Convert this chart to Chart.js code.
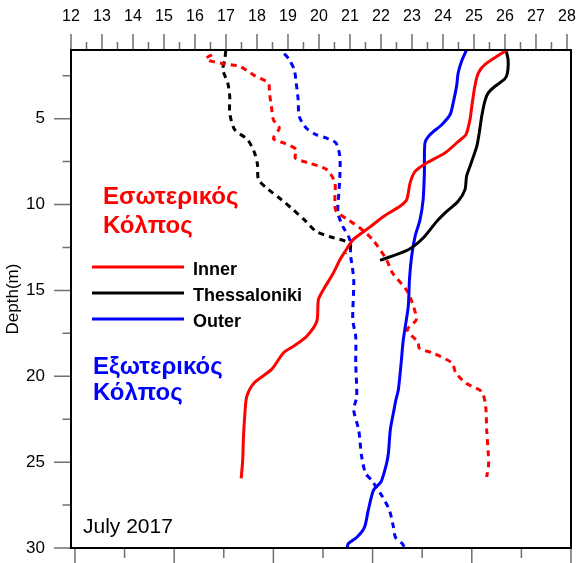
<!DOCTYPE html>
<html>
<head>
<meta charset="utf-8">
<script src="https://cdn.jsdelivr.net/npm/chart.js@4/dist/chart.umd.min.js"></script>
<style>
  html, body { margin: 0; padding: 0; background: #fff; overflow: hidden; width: 578px; height: 563px; }
  #wrap { width: 578px; height: 563px; overflow: hidden; }
  canvas { display: block; }
</style>
</head>
<body>
<div id="wrap"><canvas id="c" width="578" height="563" style="width:578px;height:563px"></canvas></div>
<script>
// Station profiles, July 2017: temperature (top axis, °C) and salinity (bottom axis) vs depth (m)
const seriesNames = ['Inner', 'Thessaloniki', 'Outer'];
const seriesColors = ['#ff0000', '#000000', '#0000ff'];

const tempTicks = [12, 13, 14, 15, 16, 17, 18, 19, 20, 21, 22, 23, 24, 25, 26, 27, 28];
const depthTicks = [5, 10, 15, 20, 25, 30];

// Temperature profiles
const innerTempDepth = [1.0, 1.85, 2.35, 3.1, 4.28, 5.06, 5.93, 6.32, 7.0, 7.58, 8.07, 8.74, 9.71, 10.1, 10.69, 11.3, 12.04, 12.6, 13.2, 14.0, 14.96, 15.54, 16.8, 17.68, 18.26, 18.64, 19.6, 20.4, 21.18, 22.16, 23.7, 24.86, 25.95];
const innerTemp = [26.06, 25.35, 25.14, 25.03, 24.93, 24.87, 24.74, 24.5, 24.06, 23.47, 23.1, 22.94, 22.83, 22.61, 22.08, 21.65, 21.1, 20.89, 20.68, 20.46, 20.14, 19.98, 19.93, 19.6, 19.17, 18.85, 18.47, 17.9, 17.67, 17.61, 17.56, 17.54, 17.49];

const thessTempDepth = [1.0, 1.56, 2.34, 2.69, 3.11, 3.5, 3.99, 4.86, 5.83, 6.61, 7.78, 8.36, 9.13, 9.81, 10.4, 10.98, 11.95, 12.63, 13.25];
const thessTemp = [26.03, 26.1, 26.08, 25.99, 25.68, 25.46, 25.35, 25.25, 25.17, 25.09, 24.87, 24.76, 24.71, 24.49, 24.12, 23.8, 23.36, 22.88, 21.97];

const outerTempDepth = [1.0, 1.66, 2.34, 3.1, 4.08, 4.76, 5.35, 5.93, 6.41, 8.16, 9.71, 10.88, 11.85, 13.0, 14.33, 15.93, 17.87, 19.23, 20.78, 21.38, 22.14, 23.13, 24.47, 25.08, 26.15, 26.63, 27.8, 28.78, 29.36, 29.75, 30.0];
const outerTemp = [24.76, 24.6, 24.49, 24.44, 24.33, 24.23, 23.96, 23.58, 23.42, 23.4, 23.36, 23.26, 23.1, 22.99, 22.92, 22.88, 22.72, 22.65, 22.56, 22.48, 22.4, 22.3, 22.24, 22.18, 22.0, 21.76, 21.59, 21.47, 21.23, 20.94, 20.91];

// Salinity profiles (dashed)
const innerSalDepth = [1.27, 1.50, 1.66, 1.81, 1.95, 2.49, 2.92, 3.50, 4.28, 5.06, 5.54, 6.16, 6.45, 6.80, 7.29, 7.58, 7.97, 8.72, 9.71, 10.36, 10.88, 11.35, 12.04, 13.21, 13.98, 14.96, 15.73, 16.70, 17.29, 18.04, 18.36, 18.68, 19.23, 19.82, 20.40, 20.90, 21.76, 23.13, 25.08, 25.86];
const innerSal = [35.38, 35.32, 35.38, 35.51, 35.66, 35.81, 35.95, 35.96, 35.98, 36.00, 36.06, 36.00, 36.12, 36.23, 36.22, 36.36, 36.54, 36.62, 36.62, 36.63, 36.75, 36.87, 37.00, 37.14, 37.20, 37.34, 37.40, 37.44, 37.35, 37.46, 37.47, 37.62, 37.80, 37.84, 37.94, 38.10, 38.14, 38.15, 38.17, 38.15];

const thessSalDepth = [1.04, 1.56, 2.14, 2.92, 3.70, 4.67, 5.64, 6.22, 6.99, 7.68, 8.55, 9.13, 9.71, 10.30, 10.88, 11.56, 11.89, 12.14, 12.39, 12.86];
const thessSal = [35.52, 35.51, 35.49, 35.54, 35.56, 35.56, 35.61, 35.74, 35.81, 35.84, 35.85, 35.95, 36.08, 36.20, 36.31, 36.43, 36.58, 36.73, 36.78, 36.73];

const outerSalDepth = [1.21, 1.56, 2.14, 2.92, 3.89, 4.86, 5.54, 5.93, 6.12, 6.41, 7.19, 8.36, 9.32, 10.49, 11.27, 12.04, 13.02, 14.37, 16.70, 17.69, 19.23, 21.18, 21.96, 23.13, 24.69, 25.66, 26.05, 27.02, 27.80, 28.78, 29.37, 29.75, 29.95];
const outerSal = [36.11, 36.16, 36.21, 36.23, 36.25, 36.26, 36.33, 36.43, 36.53, 36.63, 36.67, 36.67, 36.66, 36.65, 36.70, 36.77, 36.78, 36.81, 36.80, 36.83, 36.83, 36.84, 36.81, 36.86, 36.89, 36.93, 36.99, 37.10, 37.17, 37.21, 37.23, 37.30, 37.32];

const FONT = "'Liberation Sans', Arial, sans-serif";
Chart.defaults.font.family = FONT;
Chart.defaults.color = '#000';

function pts(vals, depths) {
  return depths.map((d, i) => ({ x: vals[i], y: d }));
}

function profile(label, vals, depths, color, dashed, axis) {
  return {
    label: label,
    data: pts(vals, depths),
    xAxisID: axis,
    yAxisID: 'y',
    borderColor: color,
    backgroundColor: color,
    borderWidth: 3,
    borderDash: dashed ? [6, 5] : [],
    pointRadius: 0,
    tension: 0.25,
    fill: false
  };
}

// fixed axis box sizes, no extra room reserved for overhanging labels
function fixBox(size, horizontal) {
  return s => {
    if (horizontal) s.height = size; else s.width = size;
    s.paddingLeft = 0; s.paddingRight = 0; s.paddingTop = 0; s.paddingBottom = 0;
  };
}

// Tick marks, plot frame, key and annotations
const decor = {
  id: 'decor',
  afterDatasetsDraw(chart) {
    const { ctx, chartArea: a, scales } = chart;
    ctx.save();
    ctx.strokeStyle = '#707070';
    ctx.lineWidth = 1.5;
    ctx.beginPath();
    for (let v = 12; v <= 28.001; v += 0.5) {
      const x = scales.xT.getPixelForValue(v);
      const len = Number.isInteger(v) ? 16 : 8;
      ctx.moveTo(x, a.top); ctx.lineTo(x, a.top - len);
    }
    for (let d = 2.5; d <= 30.001; d += 2.5) {
      const y = scales.y.getPixelForValue(d);
      const len = (d % 5 === 0) ? 17 : 8.5;
      ctx.moveTo(a.left, y); ctx.lineTo(a.left - len, y);
    }
    for (let s = 34; s <= 39.001; s += 0.5) {
      const x = scales.xS.getPixelForValue(s);
      const len = Number.isInteger(s) ? 16 : 10;
      ctx.moveTo(x, a.bottom); ctx.lineTo(x, a.bottom + len);
    }
    ctx.stroke();

    ctx.strokeStyle = '#000';
    ctx.lineWidth = 2;
    ctx.strokeRect(a.left, a.top, a.right - a.left, a.bottom - a.top);

    // key
    const keyY = [267, 293, 319];
    ctx.lineWidth = 3;
    ctx.font = 'bold 18px ' + FONT;
    ctx.textBaseline = 'alphabetic';
    seriesNames.forEach((name, i) => {
      ctx.strokeStyle = seriesColors[i];
      ctx.beginPath();
      ctx.moveTo(92, keyY[i]); ctx.lineTo(184, keyY[i]);
      ctx.stroke();
      ctx.fillStyle = '#000';
      ctx.fillText(name, 193, keyY[i] + 8);
    });

    // region labels
    ctx.font = 'bold 24px ' + FONT;
    ctx.fillStyle = '#ff0000';
    ctx.fillText('Εσωτερικός', 103, 204);
    ctx.fillText('Κόλπος', 103, 233);
    ctx.fillStyle = '#0000ff';
    ctx.fillText('Εξωτερικός', 93, 374);
    ctx.fillText('Κόλπος', 93, 400);

    ctx.font = '21px ' + FONT;
    ctx.fillStyle = '#000';
    ctx.fillText('July 2017', 83, 533);
    ctx.restore();
  }
};

new Chart(document.getElementById('c'), {
  type: 'line',
  data: {
    datasets: [
      profile(seriesNames[0], innerTemp, innerTempDepth, seriesColors[0], false, 'xT'),
      profile(seriesNames[1], thessTemp, thessTempDepth, seriesColors[1], false, 'xT'),
      profile(seriesNames[2], outerTemp, outerTempDepth, seriesColors[2], false, 'xT'),
      profile(seriesNames[0] + ' salinity', innerSal, innerSalDepth, seriesColors[0], true, 'xS'),
      profile(seriesNames[1] + ' salinity', thessSal, thessSalDepth, seriesColors[1], true, 'xS'),
      profile(seriesNames[2] + ' salinity', outerSal, outerSalDepth, seriesColors[2], true, 'xS')
    ]
  },
  options: {
    responsive: false,
    animation: false,
    devicePixelRatio: 1,
    layout: { padding: { left: 0, right: 7, top: 0, bottom: 0 } },
    plugins: { legend: { display: false }, tooltip: { enabled: false } },
    scales: {
      xT: {
        type: 'linear',
        position: 'top',
        min: 12,
        max: 28.13,
        grid: { display: false, drawTicks: false },
        border: { display: false },
        ticks: { font: { size: 16 }, color: '#000', padding: 24, maxRotation: 0, autoSkip: false },
        afterBuildTicks: s => { s.ticks = tempTicks.map(v => ({ value: v })); },
        afterFit: fixBox(50, true)
      },
      xS: {
        type: 'linear',
        position: 'bottom',
        min: 33.96,
        max: 39.0,
        grid: { display: false, drawTicks: false },
        border: { display: false },
        ticks: { display: false },
        afterFit: fixBox(15, true)
      },
      y: {
        type: 'linear',
        position: 'left',
        reverse: true,
        min: 1,
        max: 30,
        grid: { display: false, drawTicks: false },
        border: { display: false },
        ticks: { font: { size: 17 }, color: '#000', padding: 26, autoSkip: false },
        afterBuildTicks: s => { s.ticks = depthTicks.map(v => ({ value: v })); },
        title: { display: true, text: 'Depth(m)', font: { size: 17 }, color: '#000', padding: { top: 3, bottom: 0 } },
        afterFit: fixBox(71, false)
      }
    }
  },
  plugins: [decor]
});
</script>
</body>
</html>
